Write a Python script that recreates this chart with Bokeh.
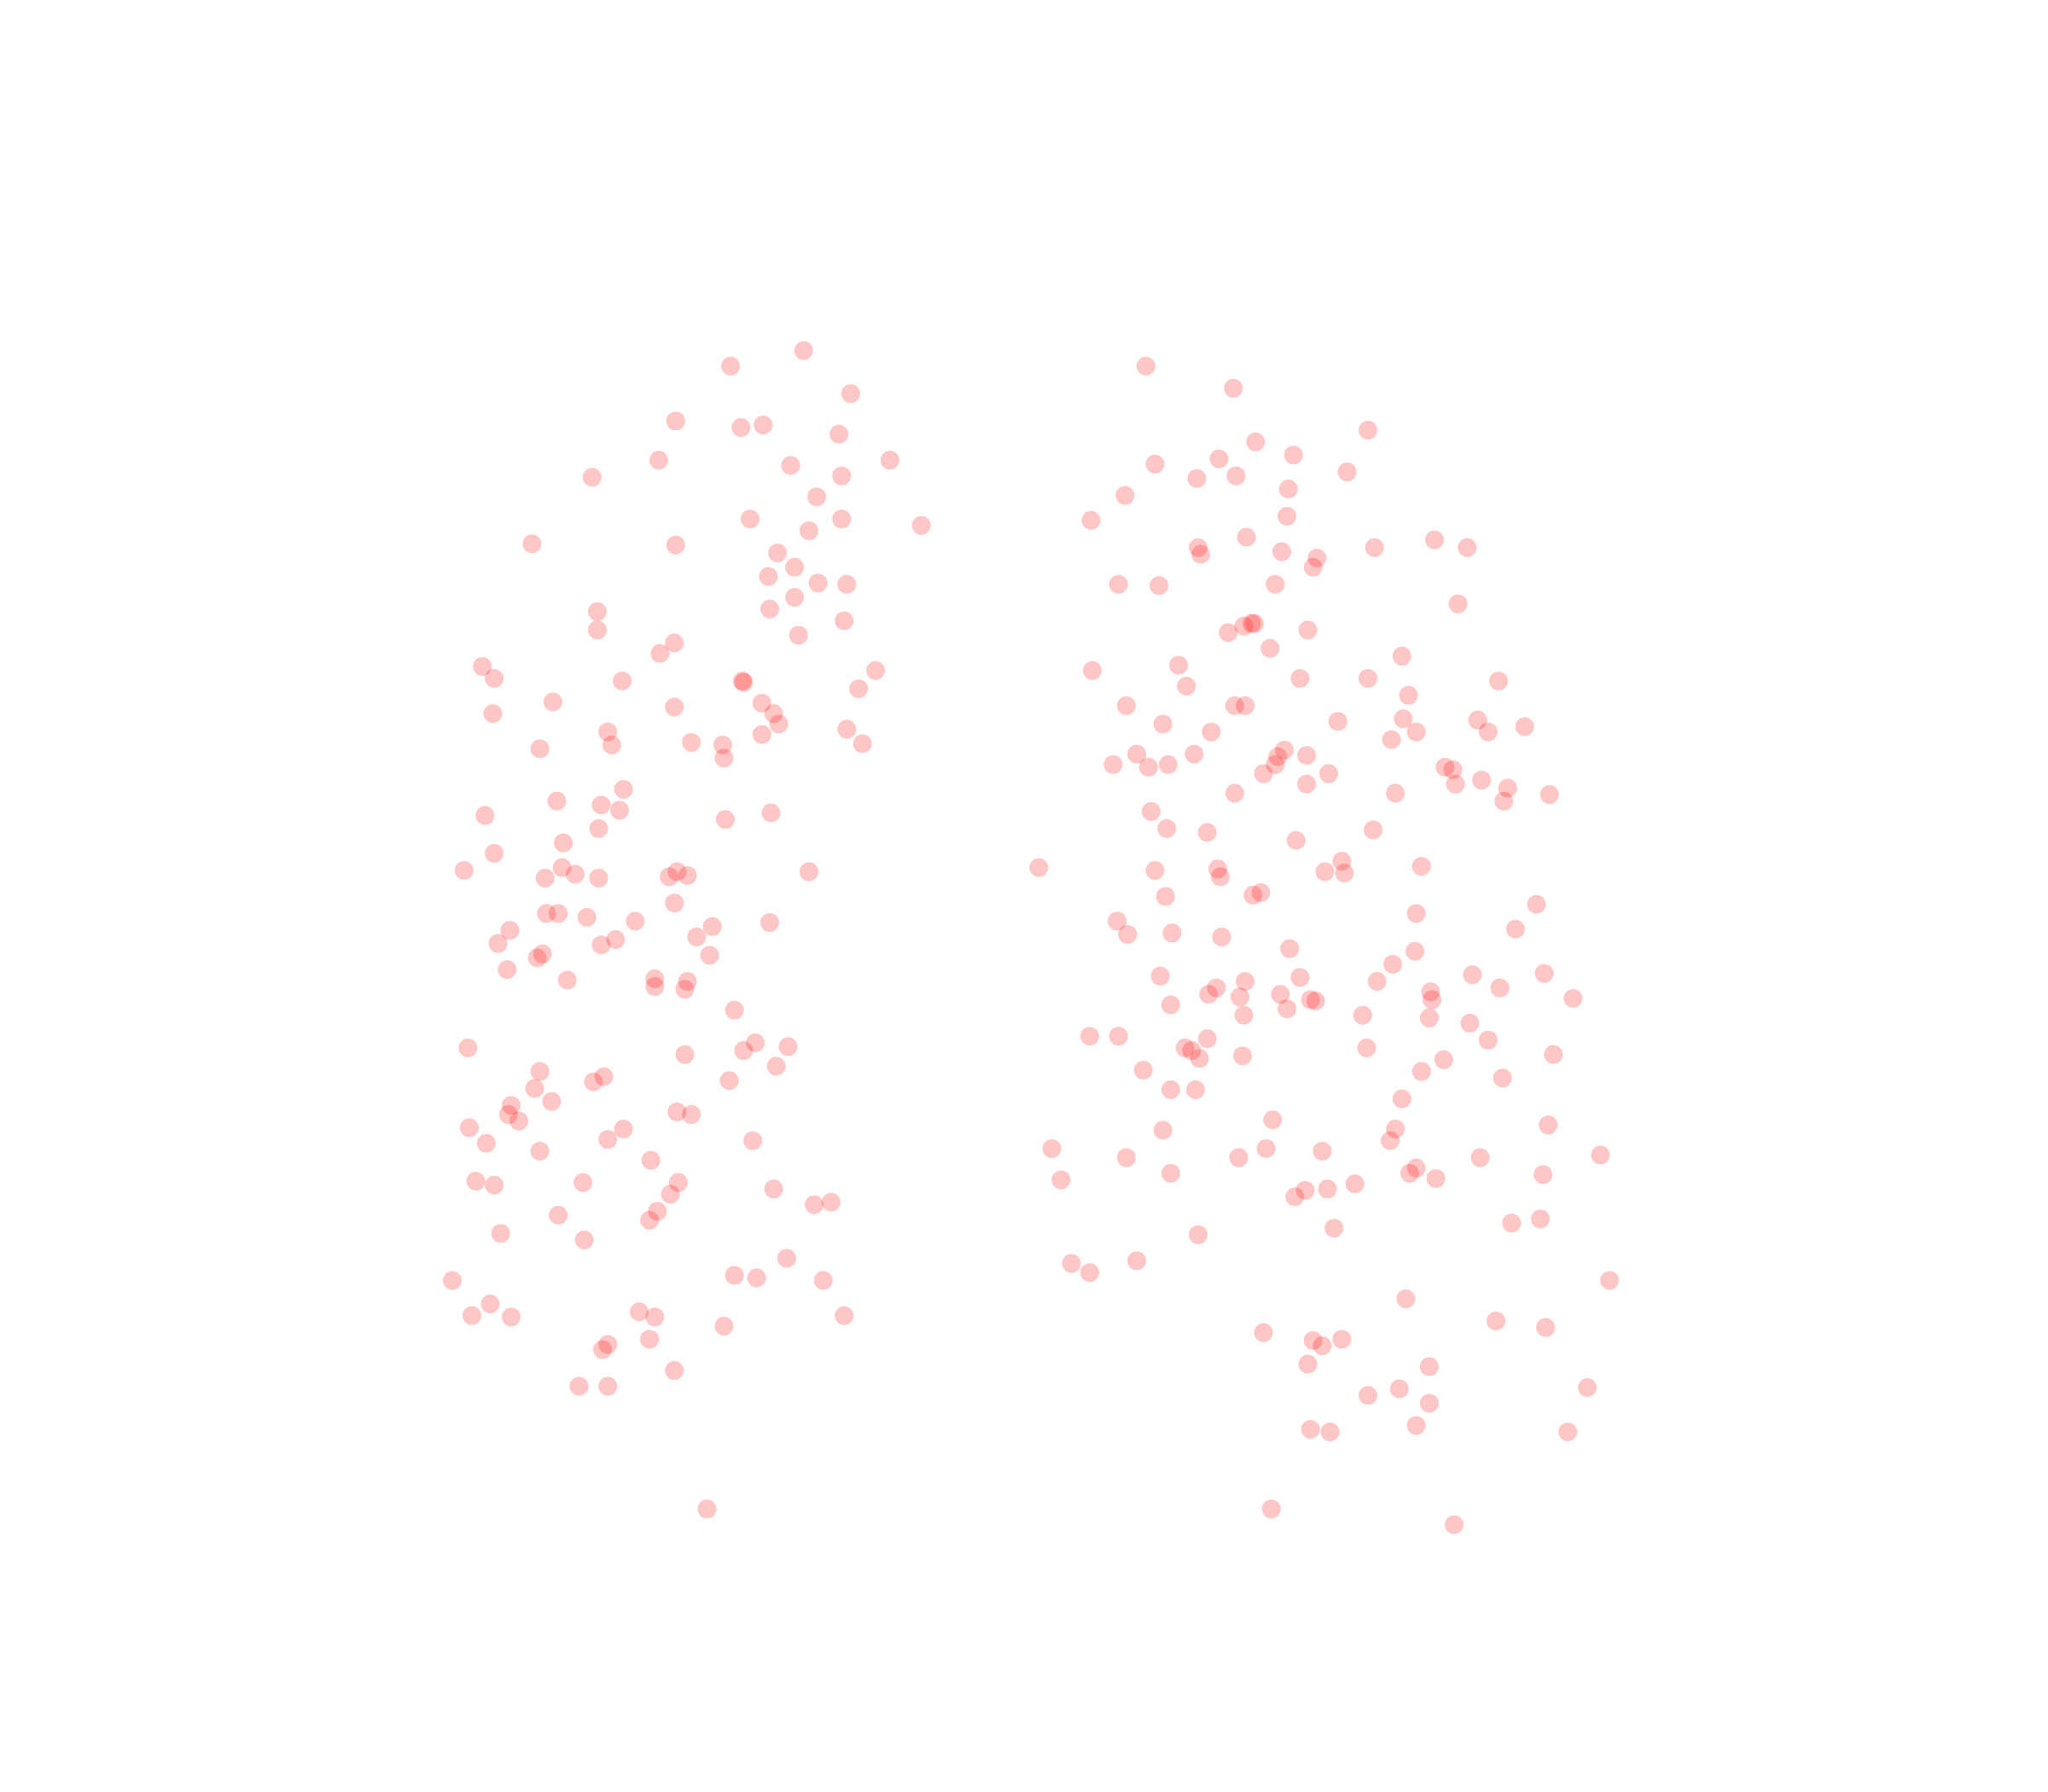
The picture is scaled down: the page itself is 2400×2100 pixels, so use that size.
from bokeh.plotting import figure
from bokeh.models import Range1d
from bokeh.embed import file_html
from bokeh.resources import INLINE

left_points = [
(559,280),(615,268),(651,301),(517,322),(567,327),(584,325),(642,332),(504,352),(453,365),(605,356),
(644,364),(681,352),(625,380),(574,397),(644,397),(619,406),(705,402),(407,416),(517,417),(595,423),
(608,434),(588,441),(626,446),(648,447),(608,457),(589,466),(646,475),(611,486),(457,468),(457,482),
(516,492),(505,500),(369,510),(378,519),(476,521),(568,521),(569,522),(670,513),(657,527),(423,537),
(516,541),(583,538),(592,546),(596,554),(377,546),(465,560),(468,570),(413,573),(529,568),(553,570),
(554,580),(583,562),(648,558),(660,569),(477,604),(426,613),(460,616),(474,620),(371,624),(555,627),
(590,622),(458,634),(431,645),(378,653),(355,666),(430,664),(417,672),(440,669),(458,672),(512,671),
(518,667),(526,670),(619,667),(516,691),(418,699),(427,699),(449,702),(486,705),(545,709),(589,706),
(390,712),(381,722),(533,717),(471,719),(460,723),(415,730),(411,733),(543,731),(388,742),(434,750),
(501,749),(501,755),(526,751),(524,757),(562,773),(358,802),(578,798),(569,804),(603,801),(524,807),
(594,816),(413,820),(462,824),(454,828),(409,833),(558,827),(422,843),(391,846),(389,853),(397,858),
(518,851),(529,853),(359,863),(477,864),(372,875),(465,872),(576,873),(413,881),(498,888),(364,904),
(378,907),(446,905),(519,905),(592,910),(513,914),(623,922),(636,920),(503,927),(497,934),(427,930),
(383,944),(447,949),(602,963),(562,976),(579,978),(630,980),(346,980),(361,1007),(375,998),(391,1008),
(489,1004),(501,1008),(646,1007),(554,1015),(497,1025),(465,1029),(461,1033),(516,1049),(443,1061),
(465,1061),(541,1155),
]
right_points = [
(877,280),(944,297),(1047,329),(961,338),(990,348),(933,351),(884,355),(916,366),(946,364),(1031,361),
(861,379),(986,374),(985,395),(835,398),(954,411),(917,419),(919,424),(981,422),(1008,427),(1005,434),
(1052,419),(1098,413),(1123,419),(856,447),(887,448),(976,447),(1116,462),(940,484),(952,479),(958,477),
(960,477),(1001,482),(972,496),(1073,502),(902,509),(836,513),(908,525),(995,519),(1047,519),(1078,532),
(1147,521),(862,540),(945,540),(953,540),(890,554),(927,560),(1024,552),(1074,550),(1084,560),(1065,566),
(1131,551),(1139,560),(1167,556),(870,577),(914,577),(983,574),(978,579),(1000,578),(852,585),(879,587),
(894,585),(976,585),(967,592),(1017,592),(1000,600),(1106,587),(1112,589),(1114,600),(1134,597),(1154,603),
(1151,613),(1186,608),(945,607),(1068,607),(881,621),(893,634),(924,637),(1051,635),(992,643),(795,664),
(884,666),(932,665),(934,671),(1014,667),(1027,659),(1029,668),(1088,663),(892,686),(959,685),(965,683),
(1084,699),(1176,692),(855,705),(863,715),(897,714),(935,717),(1160,711),(987,726),(1083,728),(1066,738),
(888,747),(931,756),(953,751),(995,748),(1054,751),(1127,746),(1148,756),(1182,745),(925,761),(949,763),
(980,761),(1003,765),(1007,766),(1095,759),(1096,765),(1204,764),(896,769),(952,777),(985,772),(1043,777),
(1094,779),(1125,783),(834,793),(856,793),(924,795),(1139,796),(907,802),(912,804),(918,810),(951,808),
(1046,802),(1105,811),(1189,807),(875,819),(1088,820),(1150,825),(896,834),(915,834),(1073,841),(974,857),
(1068,864),(1185,861),(890,865),(1064,873),(805,879),(969,879),(1012,881),(862,886),(948,886),(1133,886),
(1225,884),(1084,894),(1079,898),(1099,902),(1181,899),(896,898),(812,903),(1037,906),(999,911),(1016,910),
(991,916),(917,945),(1021,940),(1157,936),(1179,933),(820,967),(834,974),(870,965),(1232,980),(1076,994),
(1145,1011),(1183,1016),(967,1020),(1005,1026),(1012,1030),(1027,1025),(1001,1044),(1094,1046),(1215,1062),
(1071,1063),(1047,1068),(1094,1074),(1084,1091),(1003,1094),(1018,1096),(1200,1096),(973,1155),(1113,1167),
]

SCALE = 2400 / 1568
W, H = 2384, 2084

p = figure(width=W, height=H, output_backend="svg", toolbar_location=None,
           x_range=Range1d(0, W / SCALE), y_range=Range1d(H / SCALE, 0),
           min_border=0, outline_line_color=None)
p.axis.visible = False
p.grid.visible = False

for pts in (left_points, right_points):
    p.scatter([a for a, _ in pts], [b for _, b in pts], size=22, marker="circle",
              fill_color="#ff0000", fill_alpha=0.225, line_color=None)

open("out.html", "w").write(file_html(p, INLINE))
